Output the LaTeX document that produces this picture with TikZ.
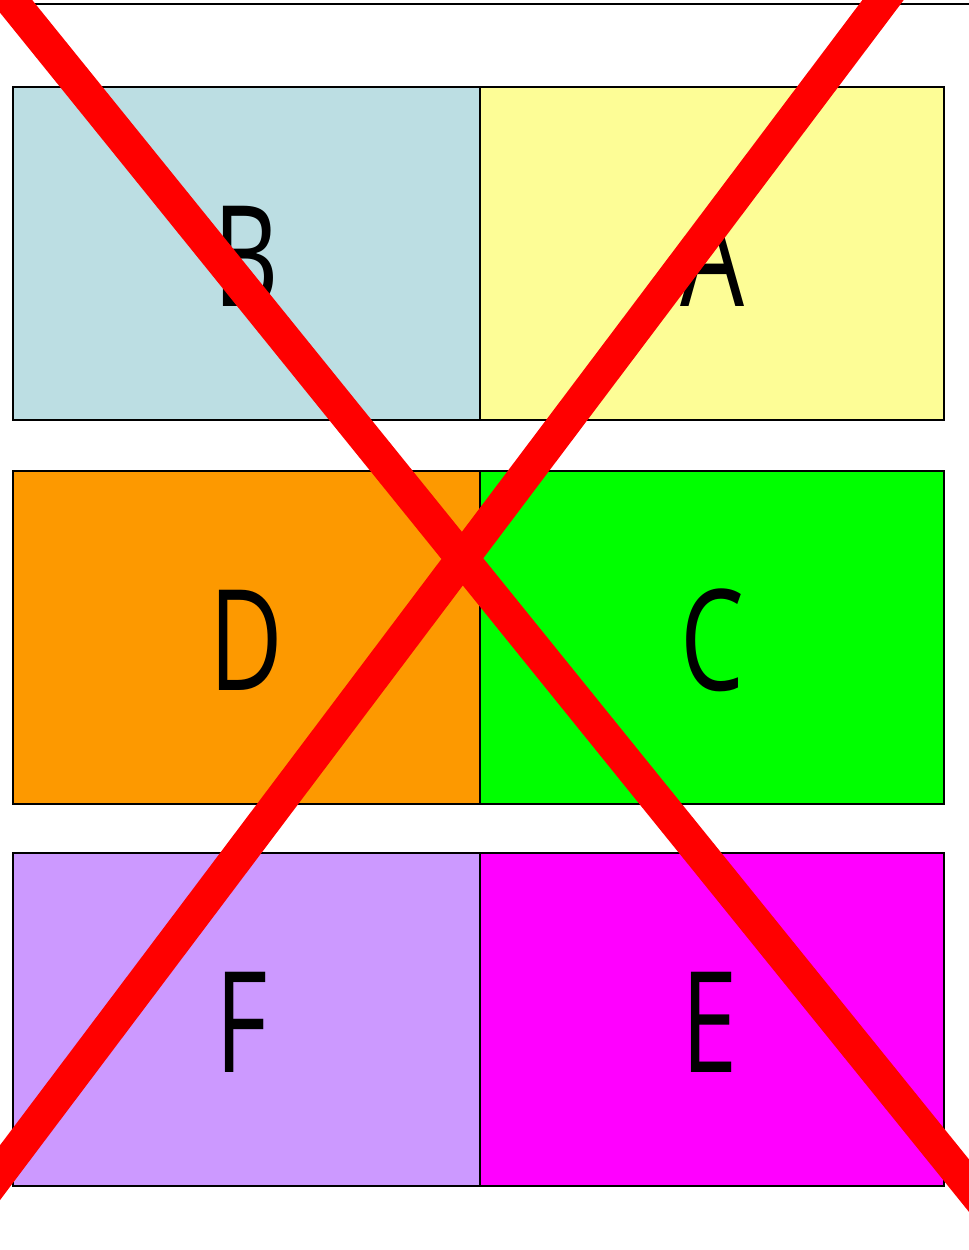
\documentclass[tikz,border=0pt]{standalone}
\usepackage{fontspec}
\setmainfont{Open Sans}
\definecolor{cB}{RGB}{188,222,227}
\definecolor{cA}{RGB}{253,253,150}
\definecolor{cD}{RGB}{253,153,0}
\definecolor{cC}{RGB}{0,255,0}
\definecolor{cF}{RGB}{204,153,255}
\definecolor{cE}{RGB}{255,0,255}
\newcommand{\cellletter}[1]{\scalebox{0.72}[1]{\fontsize{141}{141}\selectfont #1}}
\begin{document}
\begin{tikzpicture}[x=1bp,y=-1bp,
  cell/.style={draw=black,line width=2bp,rectangle,minimum height=333bp,inner sep=0pt,outer sep=0pt},
  lcell/.style={cell,minimum width=467bp},
  rcell/.style={cell,minimum width=464bp},
  lab/.style={inner sep=0pt},
  cross/.style={draw=red,line width=33bp}]
\useasboundingbox (0,0) rectangle (969,1250);
\clip (0,0) rectangle (969,1250);
\draw[line width=2bp] (0,4) -- (969,4);
\node[lcell,fill=cB] (b) at (246.5,253.5) {};
\node[rcell,fill=cA] (a) at (712,253.5) {};
\node[lcell,fill=cD] (d) at (246.5,637.5) {};
\node[rcell,fill=cC] (c) at (712,637.5) {};
\node[lcell,fill=cF] (f) at (246.5,1019.5) {};
\node[rcell,fill=cE] (e) at (712,1019.5) {};
\node[lab] (lb) at ([yshift=-3bp]b.center) {\cellletter{B}};
\node[lab] (la) at ([yshift=-3bp]a.center) {\cellletter{A}};
\node[lab] (ld) at ([yshift=-3bp]d.center) {\cellletter{D}};
\node[lab] (lc) at ([yshift=-3bp]c.center) {\cellletter{C}};
\node[lab] (lf) at ([yshift=-3bp,xshift=-5bp]f.center) {\cellletter{F}};
\node[lab] (le) at ([yshift=-3bp,xshift=-2bp]e.center) {\cellletter{E}};
\coordinate (x1s) at (-29.4,-50);
\coordinate (x1e) at (1061.4,1300);
\coordinate (x2s) at (920.7,-50);
\coordinate (x2e) at (-95.9,1300);
\draw[cross] (x1s) -- (x1e);
\draw[cross] (x2s) -- (x2e);
\end{tikzpicture}
\end{document}
